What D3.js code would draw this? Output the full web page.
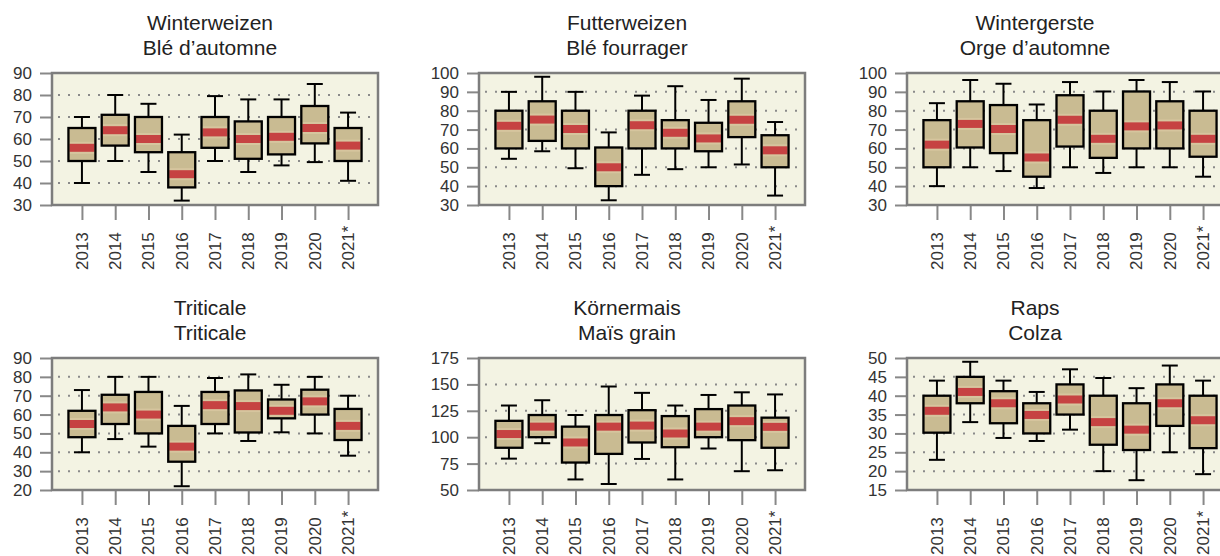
<!DOCTYPE html>
<html>
<head>
<meta charset="utf-8">
<style>
  body { margin: 0; background: #fff; }
  text { font-family: "Liberation Sans", Arial, sans-serif; fill: #333; }
</style>
</head>
<body>
<script src="https://d3js.org/d3.v7.min.js"></script>
<script>
// years on the x axis
var years = ["2013", "2014", "2015", "2016", "2017", "2018", "2019", "2020", "2021*"];

// each entry: [whisker low, q1, median, q3, whisker high]
var winterweizen = [[40,50,56,65,70],[50,57,64,71,80],[45,54,60,70,76],[32,38,44,54,62],[50,56,63,70,79.5],[45,51,60,68,78],[48,53,61,70,78],[49.5,58,65,75,85],[41,50,57,65,72]];
var futterweizen = [[54.5,60,72,80,90],[58.5,64,75.3,85,98],[49.5,60,70.3,80,90],[32.5,40,50,60.5,68.5],[46,60,72.3,80,88],[49,60,68.3,75,93],[50,58.5,65.3,73.6,85.7],[51.5,66,75.2,85,97],[35,50,59,67,74]];
var wintergerste = [[40,50,62,75,84],[50,60.5,73,85,96.3],[48,57.5,70.3,83,94.3],[39,45,55.2,75,83.3],[50,61,75.2,88.2,95.2],[47,55,65.1,80,90.2],[50,60,71.7,90.2,96.3],[50,60,72.2,85,95.2],[45,55.6,65.1,80,90.2]];
var triticale = [[40,48,55,62,73],[47,55,63.8,70.5,80],[43,50,60,72,80],[22,35,43,54,64.6],[50,55,65,72,79.4],[46,50.5,64.5,72.8,81.3],[50.6,58,62,68,75.8],[50,60,67,73.2,80],[38.2,46.5,54,63,70]];
var koernermais = [[79.7,90,103,115.5,130],[94.3,100,110,121,135],[60,76,95,110,121],[55.7,84.2,110,121,148],[79.4,95,111,125.6,142],[60,90.5,103.5,120,130],[89.3,100,110,126.6,140],[67.8,97.2,115.2,130,142.5],[68.7,90,109.8,118.5,140.5]];
var raps = [[23,30.2,36,40,44],[33,38,41,45,49],[28.8,32.7,38,41.2,44],[28,30,34.9,38,41],[31,35,39,43,47],[20,27,33,40,44.7],[17.6,25.6,31,38,42],[25,32,38,43,48],[19.2,26.1,33.5,40,44]];

var titlesDe = ["Winterweizen", "Futterweizen", "Wintergerste", "Triticale", "Körnermais", "Raps"];
var titlesFr = ["Blé d’automne", "Blé fourrager", "Orge d’automne", "Triticale", "Maïs grain", "Colza"];
var yDomains = [[30, 90], [30, 100], [30, 100], [20, 90], [50, 175], [15, 50]];
var yStep = [10, 10, 10, 10, 25, 5];

var series = [winterweizen, futterweizen, wintergerste, triticale, koernermais, raps];

// layout
var plotLeft = [52, 479, 907];
var titleX = [210, 627, 1035];
var rowTop = [73, 358];
var plotW = 326, plotH = 132;

var svg = d3.select("body").append("svg")
  .attr("width", 1220)
  .attr("height", 556);

function drawPanel(p) {
  var col = p % 3, row = Math.floor(p / 3);
  var px = plotLeft[col], py = rowTop[row];
  var g = svg.append("g").attr("transform", "translate(" + px + "," + py + ")");

  var x = d3.scalePoint().domain(years).range([0, plotW]).padding(0.9);
  var y = d3.scaleLinear().domain(yDomains[p]).range([plotH, 0]);
  var ticks = d3.range(yDomains[p][0], yDomains[p][1] + 0.001, yStep[p]);

  // titles
  svg.append("text")
    .attr("x", titleX[col]).attr("y", 30 + row * 285)
    .attr("text-anchor", "middle").style("font-size", "21px")
    .style("fill", "#222")
    .text(titlesDe[p]);
  svg.append("text")
    .attr("x", titleX[col]).attr("y", 55 + row * 285)
    .attr("text-anchor", "middle").style("font-size", "21px")
    .style("fill", "#222")
    .text(titlesFr[p]);

  // background
  g.append("rect")
    .attr("width", plotW).attr("height", plotH)
    .attr("fill", "#f3f3e3");

  // dotted grid
  g.selectAll(".grid").data(ticks.slice(1, -1)).enter().append("line")
    .attr("x1", 6).attr("x2", plotW - 3)
    .attr("y1", function(d) { return y(d); })
    .attr("y2", function(d) { return y(d); })
    .attr("stroke", "#8a8a8a")
    .attr("stroke-width", 2)
    .attr("stroke-dasharray", "2,8");

  // y axis
  var yAxis = d3.axisLeft(y).tickValues(ticks).tickSize(12).tickPadding(8);
  var ya = g.append("g").call(yAxis);
  ya.select(".domain").remove();
  ya.selectAll("line").attr("stroke", "#888").attr("stroke-width", 2);
  ya.selectAll("text").style("font-size", "17px").attr("fill", "#333")
    .style("font-family", "'Liberation Sans', Arial, sans-serif");

  // x axis
  var xAxis = d3.axisBottom(x).tickSize(15).tickFormat("");
  var xa = g.append("g").attr("transform", "translate(0," + plotH + ")").call(xAxis);
  xa.select(".domain").remove();
  xa.selectAll("line").attr("stroke", "#888").attr("stroke-width", 2);

  g.selectAll(".xlab").data(years).enter().append("text")
    .attr("transform", function(d) { return "translate(" + x(d) + "," + (plotH + 65) + ") rotate(-90)"; })
    .attr("dy", "0.35em")
    .attr("text-anchor", "start")
    .style("font-size", "17px")
    .text(function(d) { return d; });

  // boxes
  var data = series[p];
  var bw = 27, cw = 16;
  var boxes = g.selectAll(".box").data(data).enter().append("g")
    .attr("transform", function(d, i) { return "translate(" + x(years[i]) + ",0)"; });

  boxes.append("line")
    .attr("x1", 0).attr("x2", 0)
    .attr("y1", function(d) { return y(d[0]); })
    .attr("y2", function(d) { return y(d[4]); })
    .attr("stroke", "#000").attr("stroke-width", 2);
  boxes.append("line")
    .attr("x1", -cw / 2).attr("x2", cw / 2)
    .attr("y1", function(d) { return y(d[0]); })
    .attr("y2", function(d) { return y(d[0]); })
    .attr("stroke", "#000").attr("stroke-width", 2);
  boxes.append("line")
    .attr("x1", -cw / 2).attr("x2", cw / 2)
    .attr("y1", function(d) { return y(d[4]); })
    .attr("y2", function(d) { return y(d[4]); })
    .attr("stroke", "#000").attr("stroke-width", 2);
  boxes.append("rect")
    .attr("x", -bw / 2).attr("width", bw)
    .attr("y", function(d) { return y(d[3]); })
    .attr("height", function(d) { return y(d[1]) - y(d[3]); })
    .attr("fill", "#c9bb92");
  boxes.append("rect")
    .attr("x", -bw / 2 + 1).attr("width", bw - 2)
    .attr("y", function(d) { return y(d[2]) - 6; })
    .attr("height", 12)
    .attr("fill", "#d6c59e");
  boxes.append("rect")
    .attr("x", -bw / 2 + 1).attr("width", bw - 2)
    .attr("y", function(d) { return y(d[2]) - 4; })
    .attr("height", 8)
    .attr("fill", "#c64242");
  boxes.append("rect")
    .attr("x", -bw / 2).attr("width", bw)
    .attr("y", function(d) { return y(d[3]); })
    .attr("height", function(d) { return y(d[1]) - y(d[3]); })
    .attr("fill", "none")
    .attr("stroke", "#000").attr("stroke-width", 2.3);

  // frame
  g.append("rect")
    .attr("width", plotW).attr("height", plotH)
    .attr("fill", "none")
    .attr("stroke", "#7d7d7d").attr("stroke-width", 2.5);
}

for (var p = 0; p < 6; p++) {
  drawPanel(p);
}
</script>
</body>
</html>
